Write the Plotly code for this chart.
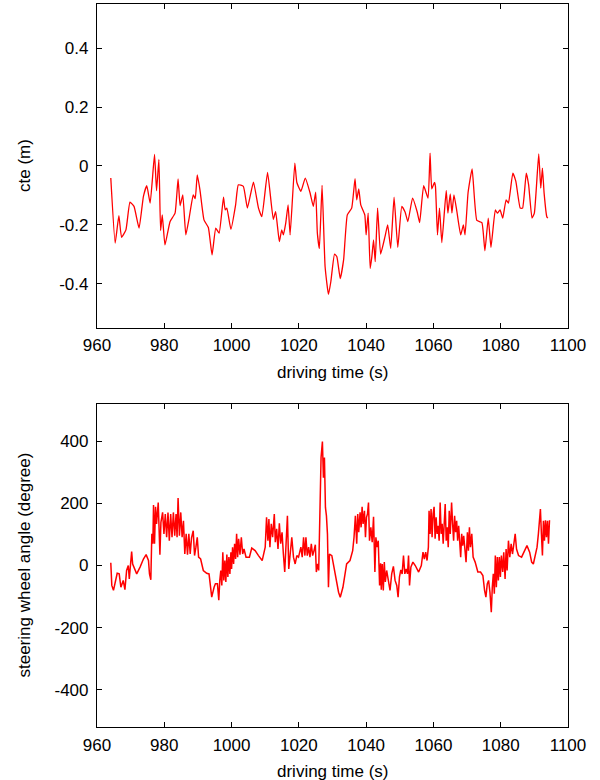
import plotly.graph_objects as go
from plotly.subplots import make_subplots

# ---- data ----
cte_time = [964.1, 965.4, 966.5, 967.3, 968.6, 969.8, 971.0, 972.5, 973.8, 974.8, 975.8, 977.1, 977.7,
            978.4, 978.9, 979.4, 980.2, 981.7, 983.2, 984.1, 984.7, 985.5, 986.4, 987.3, 988.6, 989.2,
            989.8, 990.6, 991.8, 993.1, 994.2, 995.3, 996.3, 997.6, 998.1, 998.6, 999.8, 1001.2, 1002.0,
            1003.5, 1004.7, 1006.5, 1008.0, 1009.0, 1010.7, 1012.4, 1013.1, 1014.2, 1014.9, 1015.4, 1016.1,
            1016.8, 1017.4, 1018.8, 1019.4, 1020.6, 1021.9, 1023.3, 1024.3, 1025.0, 1025.5, 1026.1, 1026.9,
            1027.8, 1028.8, 1029.5, 1030.6, 1031.3, 1032.3, 1033.3, 1034.4, 1035.7, 1036.7, 1037.2, 1037.8,
            1038.4, 1039.6, 1040.0, 1040.6, 1041.2, 1041.7, 1042.2, 1042.7, 1043.4, 1044.3, 1045.6, 1046.4,
            1047.3, 1048.3, 1049.4, 1050.6, 1051.6, 1052.4, 1053.8, 1055.2, 1055.9, 1057.1, 1058.4, 1059.0,
            1059.5, 1060.3, 1060.6, 1061.2, 1061.8, 1062.5, 1063.8, 1064.3, 1065.0, 1065.5, 1066.1, 1066.9,
            1068.1, 1068.9, 1069.4, 1070.3, 1071.5, 1072.9, 1074.4, 1075.3, 1076.3, 1077.1, 1078.4, 1079.0,
            1079.8, 1080.6, 1081.6, 1082.3, 1083.6, 1084.5, 1085.8, 1086.5, 1087.6, 1088.3, 1089.3, 1090.0,
            1091.3, 1091.9, 1092.4, 1092.9, 1093.7, 1094.0]
cte_value = [-0.041, -0.262, -0.169, -0.242, -0.217, -0.123, -0.137, -0.211, -0.103, -0.067, -0.126, 0.039,
             -0.084, 0.022, -0.219, -0.166, -0.268, -0.189, -0.160, -0.044, -0.135, -0.098, -0.234, -0.183,
             -0.098, -0.111, -0.030, -0.081, -0.183, -0.209, -0.302, -0.211, -0.228, -0.106, -0.149, -0.143,
             -0.215, -0.132, -0.064, -0.069, -0.143, -0.055, -0.143, -0.172, -0.022, -0.181, -0.155, -0.257,
             -0.217, -0.234, -0.194, -0.132, -0.234, 0.010, -0.056, -0.086, -0.041, -0.090, -0.137, -0.089,
             -0.228, -0.280, -0.066, -0.342, -0.436, -0.393, -0.299, -0.308, -0.382, -0.319, -0.166, -0.143,
             -0.043, -0.115, -0.078, -0.132, -0.166, -0.234, -0.160, -0.348, -0.308, -0.251, -0.325, -0.143,
             -0.299, -0.240, -0.200, -0.280, -0.106, -0.276, -0.137, -0.157, -0.189, -0.109, -0.157, -0.192,
             -0.067, -0.109, 0.044, -0.078, -0.056, -0.069, -0.234, -0.143, -0.260, -0.083, -0.160, -0.095,
             -0.160, -0.098, -0.149, -0.234, -0.200, -0.234, -0.090, -0.010, -0.185, -0.192, -0.288, -0.177,
             -0.276, -0.149, -0.160, -0.149, -0.177, -0.115, -0.126, -0.024, -0.052, -0.143, -0.143, -0.024,
             -0.064, -0.177, -0.160, 0.041, -0.075, -0.007, -0.092, -0.172, -0.177]

steer_time = [964.1, 964.4, 964.9, 965.4, 966.0, 966.6, 967.1, 967.8, 968.3, 968.8, 969.3, 969.6, 970.0,
              970.3, 970.6, 971.8, 972.8, 973.8, 974.6, 975.3, 975.6, 976.0, 976.3, 976.6, 976.8, 977.1,
              977.4, 977.7, 978.2, 978.7, 979.0, 979.5, 979.9, 980.3, 980.7, 981.1, 981.5, 981.9, 982.3,
              982.7, 983.1, 983.5, 983.8, 984.1, 984.5, 984.9, 985.3, 985.7, 986.1, 986.5, 986.9, 987.3,
              987.7, 988.1, 988.6, 989.0, 989.4, 989.8, 990.2, 990.8, 991.6, 992.6, 993.3, 994.1, 994.8,
              995.2, 995.8, 996.2, 996.5, 996.8, 997.1, 997.4, 997.7, 998.0, 998.3, 998.6, 998.9, 999.2,
              999.5, 999.8, 1000.0, 1000.3, 1000.6, 1000.9, 1001.2, 1001.5, 1001.8, 1002.1, 1002.5, 1002.9,
              1003.3, 1003.7, 1004.3, 1005.3, 1006.0, 1007.0, 1008.0, 1009.1, 1010.0, 1010.4, 1010.8, 1011.1,
              1011.4, 1011.8, 1012.2, 1012.7, 1013.0, 1013.4, 1013.8, 1014.2, 1014.6, 1015.0, 1015.4, 1015.8,
              1016.2, 1016.6, 1017.0, 1017.4, 1017.9, 1018.4, 1018.9, 1019.4, 1019.9, 1020.6, 1021.0, 1021.4,
              1021.8, 1022.1, 1022.5, 1022.9, 1023.3, 1023.7, 1024.1, 1024.5, 1024.9, 1025.2, 1025.6, 1025.9,
              1026.3, 1026.6, 1027.0, 1027.3, 1027.6, 1027.9, 1028.2, 1028.5, 1028.8, 1029.1, 1029.8, 1030.8,
              1031.8, 1032.3, 1033.1, 1034.2, 1035.2, 1036.0, 1036.4, 1036.8, 1037.2, 1037.5, 1037.8, 1038.2,
              1038.5, 1038.8, 1039.1, 1039.5, 1039.8, 1040.1, 1040.4, 1040.7, 1041.0, 1041.4, 1041.8, 1042.2,
              1042.6, 1042.9, 1043.2, 1043.6, 1044.0, 1044.3, 1044.5, 1044.8, 1045.1, 1045.4, 1045.7, 1046.1,
              1046.6, 1047.1, 1047.6, 1048.1, 1048.6, 1049.1, 1049.5, 1049.9, 1050.3, 1050.7, 1051.1, 1051.5,
              1051.9, 1052.3, 1052.6, 1052.9, 1053.3, 1053.9, 1054.6, 1055.6, 1056.4, 1056.9, 1057.3, 1057.7,
              1058.1, 1058.5, 1058.7, 1059.0, 1059.3, 1059.6, 1059.9, 1060.2, 1060.5, 1060.8, 1061.1, 1061.4,
              1061.7, 1062.0, 1062.3, 1062.6, 1062.9, 1063.2, 1063.5, 1063.8, 1064.1, 1064.4, 1064.7, 1065.0,
              1065.4, 1065.7, 1066.0, 1066.3, 1066.6, 1066.9, 1067.2, 1067.5, 1067.8, 1068.1, 1068.4, 1068.7,
              1069.0, 1069.3, 1069.7, 1070.1, 1070.4, 1070.7, 1071.0, 1071.4, 1071.8, 1072.4, 1073.2, 1074.0,
              1074.7, 1075.2, 1075.6, 1076.0, 1076.4, 1076.8, 1077.2, 1077.5, 1077.8, 1078.1, 1078.4, 1078.7,
              1079.0, 1079.3, 1079.6, 1079.9, 1080.2, 1080.6, 1080.9, 1081.3, 1081.6, 1081.9, 1082.3, 1082.7,
              1083.1, 1083.5, 1083.9, 1084.3, 1084.7, 1085.3, 1086.2, 1087.0, 1087.8, 1088.6, 1089.2, 1089.7,
              1090.2, 1090.8, 1091.2, 1091.5, 1091.8, 1092.1, 1092.4, 1092.7, 1093.0, 1093.3, 1093.6, 1093.9,
              1094.2, 1094.5]
steer_value = [9, -64, -80, -59, -25, -27, -70, -48, -78, -16, 0, -43, 11, 45, 5, -27, -5, 21, 35, 16, -27,
               -46, 102, 70, 195, 70, 189, 134, 203, 35, 139, 171, 102, 166, 91, 171, 80, 166, 91, 171, 96,
               166, 91, 217, 96, 171, 91, 144, 37, 102, 35, 102, 37, 89, 112, 32, 59, 91, 27, 21, -16, -25,
               -27, -102, -70, -59, -59, -112, -48, -16, -64, 43, -48, 16, -53, 35, -37, 27, -27, 43, -11, 59,
               5, 70, 21, 102, 27, 86, 35, 91, 37, 53, 27, 27, 56, 48, 32, 16, 59, 155, 80, 150, 59, 134, 91,
               166, 75, 118, 53, 136, 70, 107, 37, -21, 70, 160, -11, 48, 91, 27, 5, 32, 27, 59, 27, 91, 32,
               91, 32, 59, 27, 70, 32, 48, 67, -21, 5, -16, 209, 348, 399, 283, 348, 187, 160, 102, -70, 37,
               32, -27, -86, -102, -70, 5, 16, 48, 91, 160, 70, 166, 107, 171, 123, 189, 134, 176, 91, 155,
               166, 203, 80, 123, 75, 157, -21, 91, 59, 80, -64, 7, -78, 5, -80, 11, -53, -16, -48, -80, -27,
               -3, -48, -64, -102, -37, -14, -27, 32, -27, -11, -27, 32, -64, -5, 11, 0, -21, 0, 43, 21, 43,
               16, 59, 176, 102, 182, 91, 166, 189, 86, 155, 102, 128, 80, 203, 102, 134, 70, 166, 198, 80,
               123, 59, 176, 102, 203, 134, 80, 160, 107, 144, 80, 128, 59, 27, 102, 64, 96, 48, 11, 107, 48,
               123, 59, 102, 27, 11, -21, -21, -32, -80, -102, -59, -48, -86, -150, -70, -27, -91, 32, -70,
               27, -48, 27, -37, 32, -21, 43, -43, 53, -16, 80, 27, 70, 37, 70, 102, 53, 32, 27, 43, 64, 43,
               11, 5, 27, 59, 102, 139, 182, 102, 32, 144, 80, 146, 91, 144, 70, 146]

x_ticks = [960, 980, 1000, 1020, 1040, 1060, 1080, 1100]
cte_ticks = [-0.4, -0.2, 0, 0.2, 0.4]
cte_ticklabels = ["-0.4", "-0.2", "0", "0.2", "0.4"]
steer_ticks = [-400, -200, 0, 200, 400]
steer_ticklabels = ["-400", "-200", "0", "200", "400"]

FONT = "Liberation Sans, Arial, sans-serif"
FS = 17
RED = "#ff0000"

fig = make_subplots(rows=2, cols=1, vertical_spacing=0.1053)

fig.add_trace(go.Scatter(x=cte_time, y=cte_value, mode="lines",
                         line=dict(color=RED, width=1.3, shape="spline", smoothing=0.4),
                         showlegend=False), row=1, col=1)
fig.add_trace(go.Scatter(x=steer_time, y=steer_value, mode="lines",
                         line=dict(color=RED, width=1.5), showlegend=False), row=2, col=1)

axis_common = dict(showline=True, linecolor="black", linewidth=1.2, mirror="ticks",
                   ticks="inside", ticklen=5, tickcolor="black", tickwidth=1,
                   showgrid=False, zeroline=False,
                   tickfont=dict(family=FONT, size=FS, color="black"))

fig.update_xaxes(range=[960, 1100], tickvals=x_ticks, ticklabelstandoff=2, **axis_common)
fig.update_yaxes(range=[-0.55, 0.55], tickvals=cte_ticks, ticktext=cte_ticklabels,
                 ticklabelstandoff=4, row=1, col=1, **axis_common)
fig.update_yaxes(range=[-520, 520], tickvals=steer_ticks, ticktext=steer_ticklabels,
                 ticklabelstandoff=4, row=2, col=1, **axis_common)

top_dom = [0.5519, 1.0]
bot_dom = [0.0, 0.4467]
fig.layout.yaxis.domain = top_dom
fig.layout.yaxis2.domain = bot_dom

title_font = dict(family=FONT, size=FS, color="black")
annotations = [
    dict(text="driving time (s)", xref="paper", yref="paper", x=0.5, y=top_dom[0],
         yshift=-45, xanchor="center", yanchor="middle", showarrow=False, font=title_font),
    dict(text="driving time (s)", xref="paper", yref="paper", x=0.5, y=bot_dom[0],
         yshift=-44, xanchor="center", yanchor="middle", showarrow=False, font=title_font),
    dict(text="cte (m)", xref="paper", yref="paper", x=0, y=(top_dom[0] + top_dom[1]) / 2,
         xshift=-72, xanchor="center", yanchor="middle", textangle=-90, showarrow=False, font=title_font),
    dict(text="steering wheel angle (degree)", xref="paper", yref="paper", x=0,
         y=(bot_dom[0] + bot_dom[1]) / 2, xshift=-72, xanchor="center", yanchor="middle",
         textangle=-90, showarrow=False, font=title_font),
]

fig.update_layout(width=600, height=780, margin=dict(l=97, r=32, t=4, b=53),
                  paper_bgcolor="white", plot_bgcolor="white",
                  font=dict(family=FONT, size=FS, color="black"),
                  annotations=annotations)

fig.write_html("out.html", config={"displayModeBar": False},
               post_script="document.body.style.margin='0';")
